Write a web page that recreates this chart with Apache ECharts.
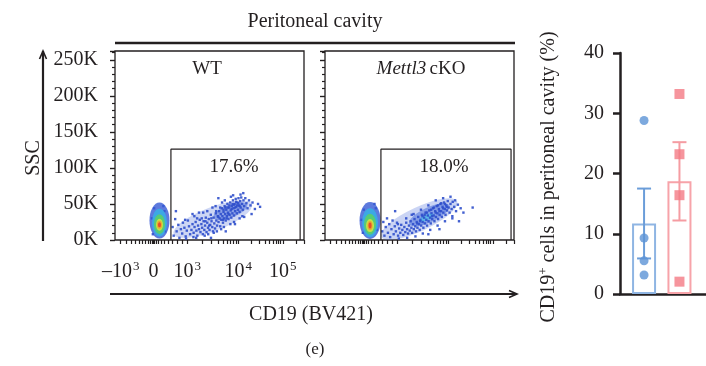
<!DOCTYPE html>
<html><head><meta charset="utf-8">
<script src="https://cdn.jsdelivr.net/npm/echarts@6/dist/echarts.min.js"></script>
<style>html,body{margin:0;padding:0;background:#fff}#c{width:706px;height:366px}</style>
</head><body><div id="c"></div>
<script>
// ---------------- data ----------------
const figTitle = 'Peritoneal cavity';
const panelTitles = ['WT', 'Mettl3 cKO'];
const gatePercents = ['17.6%', '18.0%'];
const xAxisTitle = 'CD19 (BV421)';
const yAxisTitle = 'SSC';
const panelTag = '(e)';
// flow axes: x in display channels (0-1024), y in K
const xMajorTicks = [31, 208, 392, 668, 909];
const xMajorLabels = ['\u201310^3', '0', '10^3', '10^4', '10^5'];
const xNearZeroMinor = [60, 87, 108, 130, 146, 163, 179, 190, 200, 214, 222, 233, 249, 266, 287, 309, 336, 363];
const gateWT = [[303, 0], [303, 126], [1003, 126], [1003, 0]];
const gateKO = [[303, 0], [303, 126], [1008, 126], [1008, 0]];
// density core of CD19- population (outer -> inner levels)
const blobWT = [[241, 27], [241, 24], [241, 22], [241, 21], [241, 21], [241, 21]];
const blobKO = [[244, 27], [244, 24], [244, 22], [244, 20], [244, 20], [244, 20]];
// density of CD19+ cloud
const cloudWT = [[530, 29], [625, 40]];
const cloudKO = [[510, 29], [565, 35], [550, 31]];
const dotsWT = [[312,18],[318,6],[326,29],[334,12],[343,21],[349,3],[357,15],[364,9],[368,24],[376,17],[383,5],[389,13],[395,27],[401,19],[407,8],[414,14],[420,22],
[426,10],[431,18],[437,25],[441,13],[446,6],[450,20],[455,15],[459,28],[463,11],[468,22],[472,17],[476,8],[480,26],[484,14],[488,20],[492,31],[496,11],[500,24],[504,17],[508,29],[512,14],[516,21],[519,35],[523,26],[527,18],[531,12],[534,31],[538,23],[542,16],[546,37],[549,27],[553,20],[557,33],
[561,25],[564,40],[567,30],[570,19],[573,36],[576,28],[579,44],[582,33],[585,24],[588,39],[591,30],[594,47],[597,36],[600,27],[603,42],[606,33],[609,50],[612,38],[615,29],[618,45],[621,35],[624,52],[627,41],[630,31],[633,47],[636,37],[639,55],[642,44],[645,34],[648,50],[651,40],[654,57],[657,46],[660,37],[663,52],[666,42],[669,58],[672,48],[675,39],[678,54],[681,45],[684,59],[688,50],[692,42],[696,55],[700,47],
[706,58],[712,51],[718,44],[726,55],[734,48],[745,52],[758,43],[775,50],[786,46],
[330,40],[455,38],[600,12],[650,22],[700,32],[520,3],[420,36],[560,58],[740,36],
[205,8],[212,44],[268,40],[272,12],[200,30],[262,47],
[380,28],[385,2],[430,33],[425,4],[445,30],[440,3],[478,38],[486,6],[500,40],[505,8],[528,45],[535,10],[545,47],[552,12],[580,52],[575,15],[595,55],[590,18],[628,60],[625,22],[640,62],[645,25],[680,63],[675,30],[695,65],[690,33],
[610,45],[620,48],[632,43],[644,49],[656,53],[668,51],[605,30],[615,36],[637,50],[650,45],[662,48],[675,47],[588,42],[598,45],[560,32],[570,45],[586,28],[548,40],[522,30],[510,20],[490,26],[470,30]];
const dotsKO = [[310,12],[316,25],[322,6],[329,18],[336,30],[341,10],[348,22],[353,4],[360,15],[366,27],[372,8],[378,19],[384,12],[390,24],[396,6],[402,16],[408,10],[413,21],[419,14],[424,7],[430,18],[435,11],[440,24],[445,15],[450,9],[455,20],[459,13],[464,26],[468,17],[472,10],[477,22],[481,15],[485,29],[489,19],[493,12],[497,25],[501,17],[505,32],[509,22],[513,14],[517,28],[521,20],[525,35],[529,25],[533,17],[537,31],[541,23],[545,38],[549,28],[553,20],[557,34],[561,26],[565,41],[569,31],[573,23],[577,37],[581,29],[585,44],[589,34],[593,26],[597,40],[601,32],[605,47],[609,37],[613,29],[617,43],[621,35],[625,50],[629,40],[633,32],[637,46],[641,38],[645,52],[649,43],[653,35],[657,48],[661,41],[665,54],[670,45],[675,38],[680,50],[686,43],[692,53],[700,46],[710,40],[720,49],[735,44],[750,38],[726,26],
[380,40],[470,35],[620,15],[690,30],[560,8],[800,45],
[205,10],[210,42],[275,44],[280,14],[198,28],[268,50],
[395,22],[400,2],[440,30],[445,3],[480,36],[490,5],[520,42],[530,9],[560,48],[570,14],[600,55],[610,20],[640,58],[650,26],[680,60],[690,33],[705,55],
[540,35],[552,38],[575,42],[590,45],[612,48],[630,51],[650,50],[528,33],[515,26],[500,23],[580,33],[600,38],[620,40],[640,44],[660,46]];

// bar chart
const barGroups = ['WT', 'Mettl3 cKO'];
const barMeans = [11.7, 18.7];
const barErrHigh = [17.5, 25.2];
const barErrLow = [5.9, 12.2];
const pointsWT = [28.8, 9.3, 5.5, 3.15];
const pointsKO = [33.2, 23.2, 16.4, 2.05];
const barYTitle = ['CD19', '+', ' cells in peritoneal cavity (%)'];

// ---------------- styles ----------------
const FONT = "'Liberation Serif','DejaVu Serif',serif";
const INK = '#231f20';
const levelColors = ['#3559d4', '#35b4e6', '#5cd35a', '#e6e43a', '#f39a2c', '#e3342b'];
const levelSizesWT = [[20, 36], [15, 28], [11, 20], [7, 12], [5, 8], [3, 5]];
const levelSizesKO = [[21, 37], [16, 29], [12, 21], [8, 13], [5, 9], [3, 6]];

function xMinorTicks() {
  const out = xNearZeroMinor.slice();
  for (let d = 2; d < xMajorTicks.length; d++) {
    const a = xMajorTicks[d], b = d + 1 < xMajorTicks.length ? xMajorTicks[d + 1] : null;
    const span = b !== null ? b - a : xMajorTicks[d] - xMajorTicks[d - 1];
    for (let k = 2; k <= 9; k++) {
      const p = a + Math.log10(k) * span;
      if (p < 1024) out.push(p);
    }
  }
  return out;
}
const allXTicks = xMajorTicks.concat(xMinorTicks());

function xLabelFmt(v) {
  const i = xMajorTicks.indexOf(v);
  if (i < 0) return '';
  const lab = xMajorLabels[i];
  if (lab.indexOf('^') < 0) return '{n|' + lab + '}';
  const p = lab.split('^');
  return '{n|' + p[0] + '}{s|' + p[1] + '}';
}

function flowX(gridIndex, showLabels) {
  return {
    type: 'value', gridIndex: gridIndex, min: 0, max: 1024,
    axisLine: { show: false, onZero: false },
    splitLine: { show: false },
    axisTick: { show: true, customValues: allXTicks, length: 4, lineStyle: { color: INK, width: 1.2 } },
    axisLabel: {
      show: showLabels, customValues: xMajorTicks, margin: 20, formatter: xLabelFmt,
      rich: {
        n: { fontFamily: FONT, fontSize: 20, color: INK, lineHeight: 22, verticalAlign: 'bottom' },
        s: { fontFamily: FONT, fontSize: 13, color: INK, lineHeight: 12, verticalAlign: 'top', padding: [0, 0, 0, 1] }
      }
    }
  };
}
function flowY(gridIndex, showLabels) {
  return {
    type: 'value', gridIndex: gridIndex, min: 0, max: 262.144, interval: 50,
    axisLine: { show: false, onZero: false },
    splitLine: { show: false },
    axisTick: { show: true, length: 5, lineStyle: { color: INK, width: 1.4 } },
    minorTick: { show: true, splitNumber: 5, length: 3, lineStyle: { color: INK, width: 1.2 } },
    axisLabel: {
      show: showLabels, margin: 17, fontFamily: FONT, fontSize: 20, color: INK, showMaxLabel: false,
      formatter: v => (v % 50 === 0 ? v + 'K' : '')
    }
  };
}

function flowSeries(idx, blob, sizes, cloud, cloudSizes, cloudColors, cloudRot, dots, gate) {
  return [
    {
      type: 'scatter', xAxisIndex: idx, yAxisIndex: idx, silent: true, clip: true,
      symbol: 'circle', symbolRotate: cloudRot,
      data: cloud.map((c, i) => ({ value: c, symbolSize: cloudSizes[i], itemStyle: { color: cloudColors[i].c, opacity: cloudColors[i].o } }))
    },
    {
      type: 'scatter', xAxisIndex: idx, yAxisIndex: idx, silent: true, clip: true,
      symbol: 'rect', symbolSize: 2.4, itemStyle: { color: '#2f4fcb', opacity: 0.9 },
      data: dots
    },
    {
      type: 'scatter', xAxisIndex: idx, yAxisIndex: idx, silent: true, clip: true,
      symbol: 'circle',
      data: blob.map((c, i) => ({ value: c, symbolSize: sizes[i], itemStyle: { color: levelColors[i] } }))
    },
    {
      type: 'line', xAxisIndex: idx, yAxisIndex: idx, silent: true, symbol: 'none',
      lineStyle: { color: INK, width: 1.2 }, data: gate, z: 5
    }
  ];
}

const cloudColorsWT = [{ c: '#5a78dc', o: 0.3 }, { c: '#3a5fd6', o: 0.45 }];
const cloudColorsKO = [{ c: '#5a78dc', o: 0.32 }, { c: '#3d66da', o: 0.5 }, { c: '#4cc0e8', o: 0.7 }];

const chart = echarts.init(document.getElementById('c'), null, { renderer: 'canvas' });
const option = {
  animation: false,
  backgroundColor: '#fff',
  grid: [
    { left: 115, top: 51, width: 189, height: 189, show: true, borderColor: INK, borderWidth: 1.3, backgroundColor: 'transparent' },
    { left: 325, top: 51, width: 189, height: 189, show: true, borderColor: INK, borderWidth: 1.3, backgroundColor: 'transparent' },
    { left: 620, top: 53, right: 0, height: 241 }
  ],
  xAxis: [
    flowX(0, true),
    flowX(1, false),
    {
      type: 'value', gridIndex: 2, min: -0.68, max: 1.75,
      axisLine: { show: true, onZero: false, lineStyle: { color: INK, width: 2.5 } },
      axisTick: { show: false }, axisLabel: { show: false }, splitLine: { show: false }
    }
  ],
  yAxis: [
    flowY(0, true),
    flowY(1, false),
    {
      type: 'value', gridIndex: 2, min: 0, max: 40, interval: 10,
      axisLine: { show: true, onZero: false, lineStyle: { color: INK, width: 2.5 } },
      axisTick: { show: true, length: 7, lineStyle: { color: INK, width: 2.5 } },
      axisLabel: { margin: 16, fontFamily: FONT, fontSize: 20, color: INK },
      splitLine: { show: false }
    }
  ],
  series: [].concat(
    flowSeries(0, blobWT, levelSizesWT, cloudWT, [[84, 24], [36, 13]], cloudColorsWT, 21, dotsWT, gateWT),
    flowSeries(1, blobKO, levelSizesKO, cloudKO, [[84, 24], [44, 15], [16, 6]], cloudColorsKO, 25, dotsKO, gateKO),
    [
      {
        type: 'bar', xAxisIndex: 2, yAxisIndex: 2, barWidth: 24, silent: true,
        itemStyle: { color: 'rgba(255,255,255,0)', borderWidth: 2 },
        data: barMeans.map((m, i) => ({ value: [i, m], name: barGroups[i], itemStyle: { borderColor: ['#8fb5e3', '#f7a3a9'][i] } }))
      },
      {
        type: 'custom', xAxisIndex: 2, yAxisIndex: 2, silent: true, z: 3,
        data: barMeans.map((m, i) => [i, barErrLow[i], barErrHigh[i]]),
        encode: { x: 0, y: [1, 2] },
        renderItem: function (params, api) {
          const x = api.value(0);
          const lo = api.coord([x, api.value(1)]);
          const hi = api.coord([x, api.value(2)]);
          const col = ['#6b9dd9', '#f59ca2'][params.dataIndex];
          const hw = 7;
          const st = { stroke: col, lineWidth: 2 };
          return {
            type: 'group', children: [
              { type: 'line', shape: { x1: lo[0], y1: lo[1], x2: hi[0], y2: hi[1] }, style: st },
              { type: 'line', shape: { x1: hi[0] - hw, y1: hi[1], x2: hi[0] + hw, y2: hi[1] }, style: st },
              { type: 'line', shape: { x1: lo[0] - hw, y1: lo[1], x2: lo[0] + hw, y2: lo[1] }, style: st }
            ]
          };
        }
      },
      {
        type: 'scatter', xAxisIndex: 2, yAxisIndex: 2, silent: true, z: 4,
        symbol: 'circle', symbolSize: 9, itemStyle: { color: '#5c94d6' },
        data: pointsWT.map(v => [0, v])
      },
      {
        type: 'scatter', xAxisIndex: 2, yAxisIndex: 2, silent: true, z: 4,
        symbol: 'rect', symbolSize: 10, itemStyle: { color: '#f47a84' },
        data: pointsKO.map(v => [1, v])
      }
    ]
  ),
  graphic: [
    { type: 'text', x: 315, y: 22, style: { text: figTitle, font: '20px ' + FONT, fill: INK, align: 'center', verticalAlign: 'middle' } },
    { type: 'line', shape: { x1: 115, y1: 43, x2: 515, y2: 43 }, style: { stroke: INK, lineWidth: 2.5 } },
    { type: 'text', x: 207, y: 69, style: { text: panelTitles[0], font: '19px ' + FONT, fill: INK, align: 'center', verticalAlign: 'middle' } },
    { type: 'text', x: 421, y: 69, style: { text: '{i|Mettl3} {n|cKO}', align: 'center', verticalAlign: 'middle',
      rich: { i: { fontFamily: FONT, fontSize: 19, fontStyle: 'italic', fill: INK }, n: { fontFamily: FONT, fontSize: 19, fill: INK } } } },
    { type: 'text', x: 234, y: 167, style: { text: gatePercents[0], font: '19px ' + FONT, fill: INK, align: 'center', verticalAlign: 'middle' } },
    { type: 'text', x: 444, y: 167, style: { text: gatePercents[1], font: '19px ' + FONT, fill: INK, align: 'center', verticalAlign: 'middle' } },
    // y arrow
    { type: 'line', shape: { x1: 43, y1: 241, x2: 43, y2: 51 }, style: { stroke: INK, lineWidth: 2.2 } },
    { type: 'polyline', shape: { points: [[39.5, 59], [43, 51], [46.5, 59]] }, style: { stroke: INK, lineWidth: 1.6, fill: null } },
    { type: 'text', x: 34, y: 158, rotation: Math.PI / 2, style: { text: yAxisTitle, font: '20px ' + FONT, fill: INK, align: 'center', verticalAlign: 'middle' } },
    // x arrow
    { type: 'line', shape: { x1: 110, y1: 294, x2: 517, y2: 294 }, style: { stroke: INK, lineWidth: 2.2 } },
    { type: 'polyline', shape: { points: [[509, 290.5], [517, 294], [509, 297.5]] }, style: { stroke: INK, lineWidth: 1.6, fill: null } },
    { type: 'text', x: 311, y: 315, style: { text: xAxisTitle, font: '20px ' + FONT, fill: INK, align: 'center', verticalAlign: 'middle' } },
    { type: 'text', x: 315, y: 350, style: { text: panelTag, font: '17px ' + FONT, fill: INK, align: 'center', verticalAlign: 'middle' } },
    // bar y title
    { type: 'text', x: 548, y: 177, rotation: Math.PI / 2, style: { text: '{n|' + barYTitle[0] + '}{s|' + barYTitle[1] + '}{n|' + barYTitle[2] + '}', align: 'center', verticalAlign: 'middle',
      rich: { n: { fontFamily: FONT, fontSize: 20, fill: INK, lineHeight: 22, verticalAlign: 'bottom' }, s: { fontFamily: FONT, fontSize: 13, fill: INK, lineHeight: 12, verticalAlign: 'top' } } } }
  ]
};
chart.setOption(option);
</script>
</body></html>
